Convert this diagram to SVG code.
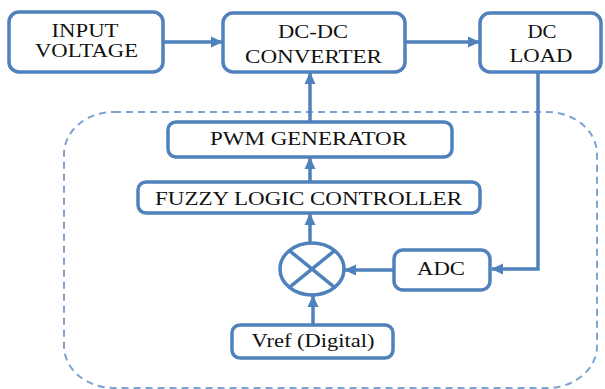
<svg xmlns="http://www.w3.org/2000/svg" width="605" height="389" viewBox="0 0 605 389">
<defs>
<marker id="ah" markerUnits="userSpaceOnUse" markerWidth="12" markerHeight="12" viewBox="0 0 12 12" refX="11" refY="6" orient="auto">
<path d="M0,0.5 L12,6 L0,11.5 Z" fill="#4f81bd"/>
</marker>
</defs>
<style>
.box{fill:#fff;stroke:#4f81bd;stroke-width:3.5}
text{font-family:'Liberation Serif','DejaVu Serif',serif;font-size:18px;fill:#111;text-anchor:middle}
.c{fill:none;stroke:#4f81bd;stroke-width:3.5}
.dash{fill:none;stroke:#7ea3d3;stroke-width:2;stroke-dasharray:7 5}
</style>
<rect class="dash" x="64" y="112" width="533" height="276" rx="50" ry="42"/>
<g id="connectors">
<line class="c" x1="163" y1="42" x2="222" y2="42" marker-end="url(#ah)"/>
<line class="c" x1="405" y1="42" x2="479" y2="42" marker-end="url(#ah)"/>
<polyline class="c" points="538,72 538,269 492,269" marker-end="url(#ah)"/>
<line class="c" x1="394" y1="270" x2="345" y2="270" marker-end="url(#ah)"/>
<line class="c" x1="313" y1="325" x2="313" y2="296" marker-end="url(#ah)"/>
<line class="c" x1="310" y1="243" x2="310" y2="214" marker-end="url(#ah)"/>
<line class="c" x1="310" y1="182" x2="310" y2="158" marker-end="url(#ah)"/>
<line class="c" x1="310" y1="122" x2="310" y2="73" marker-end="url(#ah)"/>
</g>
<g id="input">
<rect class="box" x="9" y="12" width="154" height="60" rx="10"/>
<text font-family="Liberation Serif, serif" x="85" y="37" textLength="67" lengthAdjust="spacingAndGlyphs">INPUT</text>
<text font-family="Liberation Serif, serif" x="86.5" y="57" textLength="103" lengthAdjust="spacingAndGlyphs">VOLTAGE</text>
</g>
<g id="converter">
<rect class="box" x="223" y="13" width="182" height="59" rx="10"/>
<text font-family="Liberation Serif, serif" x="313" y="38" textLength="70" lengthAdjust="spacingAndGlyphs">DC-DC</text>
<text font-family="Liberation Serif, serif" x="313.5" y="63" textLength="137" lengthAdjust="spacingAndGlyphs">CONVERTER</text>
</g>
<g id="load">
<rect class="box" x="480" y="13" width="121" height="59" rx="10"/>
<text font-family="Liberation Serif, serif" x="542" y="38" textLength="29" lengthAdjust="spacingAndGlyphs">DC</text>
<text font-family="Liberation Serif, serif" x="541" y="62" textLength="63" lengthAdjust="spacingAndGlyphs">LOAD</text>
</g>
<g id="pwm">
<rect class="box" x="168" y="122" width="284" height="35" rx="8"/>
<text font-family="Liberation Serif, serif" x="308.5" y="145" textLength="197" lengthAdjust="spacingAndGlyphs">PWM GENERATOR</text>
</g>
<g id="flc">
<rect class="box" x="138" y="182" width="342" height="31" rx="8"/>
<text font-family="Liberation Serif, serif" x="308.5" y="205" textLength="307" lengthAdjust="spacingAndGlyphs">FUZZY LOGIC CONTROLLER</text>
</g>
<g id="sum">
<ellipse class="box" cx="312" cy="269" rx="32" ry="26"/>
<line class="c" x1="289.4" y1="250.6" x2="334.6" y2="287.4"/>
<line class="c" x1="334.6" y1="250.6" x2="289.4" y2="287.4"/>
</g>
<g id="adc">
<rect class="box" x="394" y="250" width="96" height="40" rx="9"/>
<text font-family="Liberation Serif, serif" x="441" y="275" textLength="48" lengthAdjust="spacingAndGlyphs">ADC</text>
</g>
<g id="vref">
<rect class="box" x="232" y="325" width="161" height="33" rx="8"/>
<text font-family="Liberation Serif, serif" x="313" y="347" textLength="123" lengthAdjust="spacingAndGlyphs">Vref (Digital)</text>
</g>
</svg>
